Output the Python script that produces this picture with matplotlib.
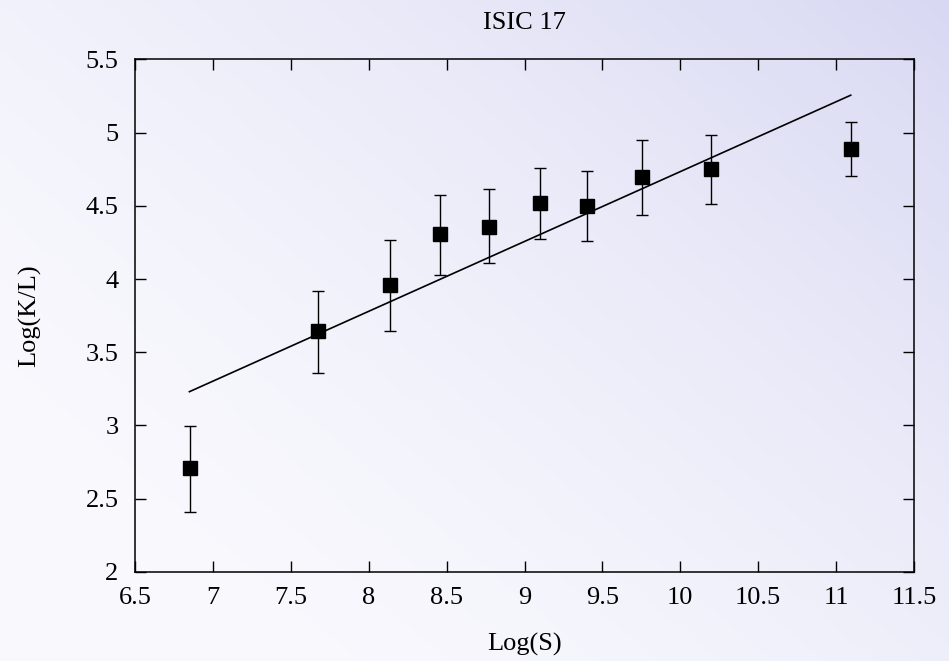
import numpy as np
import matplotlib
matplotlib.use("Agg")
import matplotlib.pyplot as plt

plt.rcParams['font.family'] = ['Liberation Serif', 'DejaVu Serif']

# data
log_s = [6.85, 7.676, 8.137, 8.46, 8.774, 9.10, 9.403, 9.756, 10.199, 11.094]
log_kl = [2.707, 3.643, 3.958, 4.306, 4.358, 4.518, 4.498, 4.696, 4.75, 4.891]
err_lo = [0.30, 0.283, 0.313, 0.276, 0.248, 0.242, 0.24, 0.258, 0.235, 0.184]
err_hi = [0.291, 0.278, 0.309, 0.271, 0.258, 0.241, 0.241, 0.255, 0.233, 0.185]

# fitted line end points
fit_x = [6.849, 11.094]
fit_y = [3.230, 5.256]

fig = plt.figure(figsize=(9.49, 6.61), dpi=100)

# background gradient: white in the lower left, lavender in the upper right
bg = fig.add_axes([0, 0, 1, 1], zorder=-10)
gx, gy = np.meshgrid(np.linspace(0, 1, 300), np.linspace(0, 1, 300))
g = ((gx * 1.1 + gy * 0.9) / 2) ** 1.8
c0 = np.array([250, 250, 254]) / 255.0
c1 = np.array([216, 216, 243]) / 255.0
img = c0[None, None, :] * (1 - g[..., None]) + c1[None, None, :] * g[..., None]
bg.imshow(img, origin='lower', extent=[0, 1, 0, 1], aspect='auto')
bg.axis('off')

ax = fig.add_axes([0.1423, 0.1351, 0.8208, 0.7749])
ax.patch.set_alpha(0)

ax.plot(fit_x, fit_y, color='black', lw=1.2)
ax.errorbar(log_s, log_kl, yerr=[err_lo, err_hi], fmt='s', color='black',
            markersize=9.5, elinewidth=1.0, capsize=4, capthick=1.0)

ax.set_xlim(6.5, 11.5)
ax.set_ylim(2, 5.5)
ax.set_xticks(np.arange(6.5, 11.51, 0.5))
ax.set_yticks(np.arange(2, 5.51, 0.5))
ax.set_xticklabels(['6.5', '7', '7.5', '8', '8.5', '9', '9.5', '10', '10.5', '11', '11.5'])
ax.set_yticklabels(['2', '2.5', '3', '3.5', '4', '4.5', '5', '5.5'])
ax.tick_params(direction='in', top=True, right=True, length=8, width=1,
               labelsize=19)
ax.tick_params(axis='x', pad=11)
ax.tick_params(axis='y', pad=12)
for s in ax.spines.values():
    s.set_linewidth(1.1)

ax.set_xlabel('Log(S)', fontsize=19, labelpad=17)
ax.set_ylabel('Log(K/L)', fontsize=19, labelpad=32)
ax.set_title('ISIC 17', fontsize=19, pad=22)

fig.savefig('out.png', dpi=100)
